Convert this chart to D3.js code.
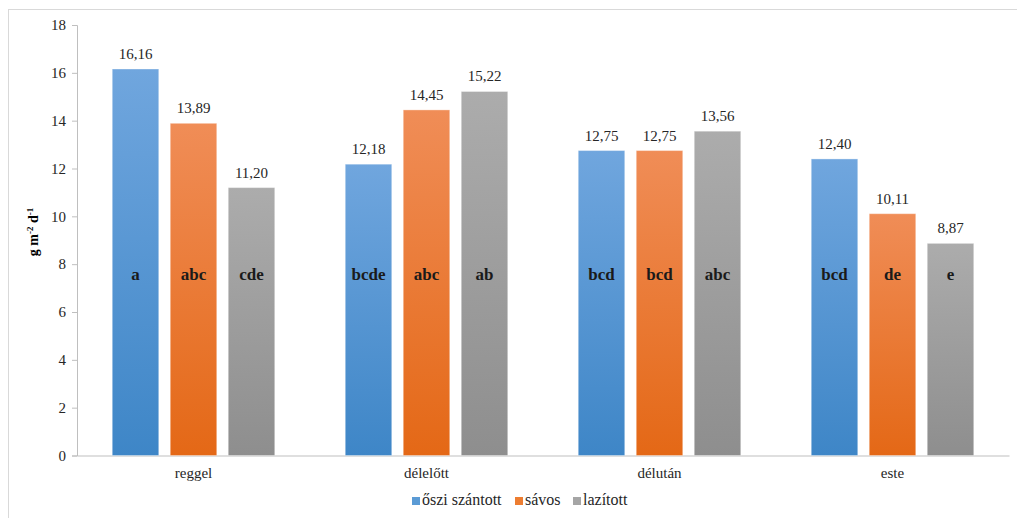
<!DOCTYPE html>
<html><head><meta charset="utf-8">
<script src="https://cdn.jsdelivr.net/npm/d3@7"></script>
<style>body{margin:0;background:#fff}svg{display:block}</style>
</head><body>
<svg id="c" width="1017" height="518"></svg>
<script>
const categories = ["reggel","délelőtt","délután","este"];
const seriesNames = ["őszi szántott","sávos","lazított"];
const valOszi = [16.16, 12.18, 12.75, 12.40];
const valSavos = [13.89, 14.45, 12.75, 10.11];
const valLazitott = [11.20, 15.22, 13.56, 8.87];
const letOszi = ["a","bcde","bcd","bcd"];
const letSavos = ["abc","abc","bcd","de"];
const letLazitott = ["cde","ab","abc","e"];
const yTicks = [0,2,4,6,8,10,12,14,16,18];
const letterLevel = 7.4;

(function(){
const values = [valOszi, valSavos, valLazitott];
const letters = [letOszi, letSavos, letLazitott];
const grads = [["#70a6de","#3e86c7"],["#f08d57","#e46816"],["#acacac","#8e8e8e"]];
const legendCols = ["#5b9bd5","#ed7d31","#a5a5a5"];
const FF = "Liberation Serif";

const svg = d3.select("#c");
svg.append("line").attr("x1",8).attr("x2",1017).attr("y1",9.5).attr("y2",9.5).attr("stroke","#d9d9d9");
svg.append("line").attr("x1",8.5).attr("x2",8.5).attr("y1",9).attr("y2",518).attr("stroke","#d9d9d9");

const mL = 77, mR = 1009, mT = 25, mB = 455.5;
const x0 = d3.scaleBand().domain(categories).range([mL,mR]);
const x1 = d3.scaleBand().domain(seriesNames).range([-87,87]).paddingInner(0.198).paddingOuter(0.099);
const y = d3.scaleLinear().domain([0,18]).range([mB,mT]);

const defs = svg.append("defs");
grads.forEach((g,i)=>{
  const lg = defs.append("linearGradient").attr("id","g"+i).attr("x1",0).attr("x2",0).attr("y1",0).attr("y2",1);
  lg.append("stop").attr("offset","0%").attr("stop-color",g[0]);
  lg.append("stop").attr("offset","100%").attr("stop-color",g[1]);
});

const ya = svg.append("g").attr("transform",`translate(${mL},0)`)
  .call(d3.axisLeft(y).tickValues(yTicks).tickSize(5).tickPadding(6).tickFormat(d3.format("d")));
ya.attr("font-family",FF);
ya.select(".domain").attr("stroke","#bfbfbf");
ya.selectAll(".tick line").attr("stroke","#bfbfbf");
ya.selectAll(".tick text").attr("font-family",FF).attr("font-size",15).attr("fill","#262626");

const xa = svg.append("g").attr("transform",`translate(0,${mB})`)
  .call(d3.axisBottom(x0).tickSize(0).tickPadding(12));
xa.attr("font-family",FF);
xa.select(".domain").attr("stroke","#bfbfbf");
xa.selectAll(".tick text").attr("font-family",FF).attr("font-size",15).attr("fill","#262626");

const fmt = v => d3.format(".2f")(v).replace(".",",");

seriesNames.forEach((s,si)=>{
  const g = svg.append("g");
  categories.forEach((c,ci)=>{
    const v = values[si][ci];
    const cx = x0(c)+x0.bandwidth()/2 + x1(s);
    g.append("rect").attr("x",cx).attr("y",y(v)).attr("width",x1.bandwidth()).attr("height",y(0)-y(v))
      .attr("fill",`url(#g${si})`).attr("stroke","rgba(255,255,255,0.35)").attr("stroke-width",1);
    g.append("text").attr("x",cx+x1.bandwidth()/2).attr("y",y(v)-10).attr("text-anchor","middle")
      .attr("font-family",FF).attr("font-size",15).attr("fill","#262626").text(fmt(v));
    g.append("text").attr("x",cx+x1.bandwidth()/2).attr("y",y(letterLevel)+1).attr("text-anchor","middle")
      .attr("font-family",FF).attr("font-size",17).attr("font-weight","bold").attr("fill","#1a1a1a").text(letters[si][ci]);
  });
});

const yl = svg.append("text").attr("transform","translate(38,232) rotate(-90)").attr("text-anchor","middle")
  .attr("font-family",FF).attr("font-size",14).attr("font-weight","bold").attr("fill","#000");
yl.append("tspan").attr("font-family",FF).text("g m");
yl.append("tspan").attr("font-family",FF).attr("dy",-5).attr("font-size",9).text("-2");
yl.append("tspan").attr("font-family",FF).attr("dy",5).text(" d");
yl.append("tspan").attr("font-family",FF).attr("dy",-5).attr("font-size",9).text("-1");

const legX = [412, 515, 573];
const lgd = svg.append("g");
seriesNames.forEach((s,i)=>{
  lgd.append("rect").attr("x",legX[i]).attr("y",497).attr("width",8).attr("height",8).attr("fill",legendCols[i]);
  lgd.append("text").attr("x",legX[i]+10).attr("y",505).attr("font-family",FF).attr("font-size",16).attr("fill","#262626").text(s);
});
})();
</script>
</body></html>
